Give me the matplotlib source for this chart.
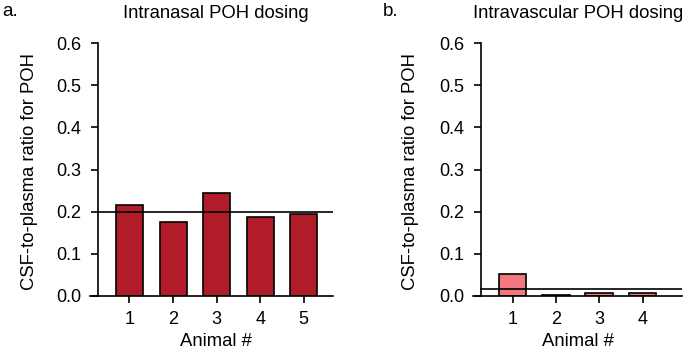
import matplotlib
matplotlib.use('Agg')
import matplotlib.pyplot as plt

plt.rcParams['font.family'] = ['Liberation Sans', 'DejaVu Sans']

# data
animals_a = [1, 2, 3, 4, 5]
ratio_a = [0.216, 0.176, 0.245, 0.187, 0.195]
mean_a = 0.20

animals_b = [1, 2, 3, 4]
ratio_b = [0.051, 0.003, 0.007, 0.007]
mean_b = 0.016

yticks = [0.0, 0.1, 0.2, 0.3, 0.4, 0.5, 0.6]
ylabel = 'CSF-to-plasma ratio for POH'

W, H = 685, 352
fig = plt.figure(figsize=(W / 100, H / 100), dpi=100)
FS = 13.3


def panel(left_px, right_px, xlim, spine_x, animals, vals, mean, color, width):
    ax = fig.add_axes([left_px / W, 56 / H, (right_px - left_px) / W, 253 / H])
    ax.bar(animals, vals, width=width, color=color, edgecolor='black', linewidth=1.2)
    ax.plot([spine_x, xlim[1]], [mean, mean], color='black', linewidth=1.2)
    ax.set_xlim(*xlim)
    ax.set_ylim(0, 0.6)
    ax.spines['top'].set_visible(False)
    ax.spines['right'].set_visible(False)
    ax.spines['left'].set_position(('data', spine_x))
    ax.spines['left'].set_bounds(0, 0.6)
    for s in ('left', 'bottom'):
        ax.spines[s].set_linewidth(1.2)
    ax.set_xticks(animals)
    ax.set_yticks(yticks)
    ax.set_yticklabels(['%.1f' % t for t in yticks])
    ax.tick_params(axis='both', labelsize=13, width=1.2, length=5, colors='black')
    ax.tick_params(axis='x', pad=6)
    ax.tick_params(axis='y', pad=7)
    return ax


panel(90, 333, (0.094, 5.67), 0.28, animals_a, ratio_a, mean_a, '#B01C27', 0.62)
panel(473, 682, (0.088, 4.91), 0.27, animals_b, ratio_b, mean_b, '#F2787E', 0.64)

# titles, panel letters, axis labels
fig.text(2 / W, 1 - 12 / H, 'a.', fontsize=13.5, va='center', ha='left')
fig.text(216 / W, 1 - 13 / H, 'Intranasal POH dosing', fontsize=FS, va='center', ha='center')
fig.text(383 / W, 1 - 12 / H, 'b.', fontsize=13.5, va='center', ha='left')
fig.text(578 / W, 1 - 13 / H, 'Intravascular POH dosing', fontsize=FS, va='center', ha='center')

fig.text(30 / W, 1 - 171 / H, ylabel, fontsize=FS, rotation=90, va='center', ha='center')
fig.text(410 / W, 1 - 171 / H, ylabel, fontsize=FS, rotation=90, va='center', ha='center')

fig.text(216 / W, 11 / H, 'Animal #', fontsize=FS, va='center', ha='center')
fig.text(578 / W, 11 / H, 'Animal #', fontsize=FS, va='center', ha='center')

fig.savefig('out.png', dpi=100)
